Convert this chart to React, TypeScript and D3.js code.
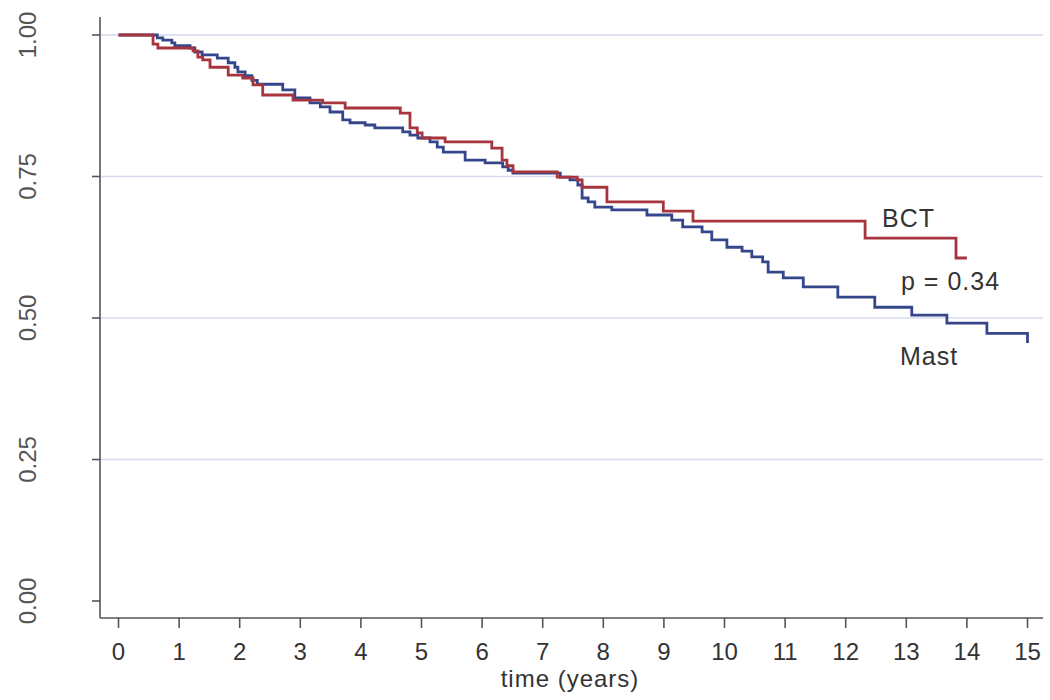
import React from "react";
import { scaleLinear, line, curveStepAfter } from "d3";

// Kaplan-Meier step points (time in years, survival after the step)
const bctTimes = [0, 0.57, 0.65, 1.23, 1.31, 1.39, 1.51, 1.81, 2.05, 2.22, 2.38, 2.88, 3.37, 3.74, 4.65, 4.81, 4.93, 5.01, 5.39, 6.16, 6.33, 6.41, 6.51, 7.24, 7.57, 7.65, 8.06, 8.99, 9.48, 12.32, 13.82, 14.0];
const bctSurv = [1, 0.984, 0.977, 0.972, 0.961, 0.956, 0.943, 0.929, 0.924, 0.912, 0.894, 0.885, 0.88, 0.871, 0.862, 0.836, 0.827, 0.818, 0.811, 0.8, 0.779, 0.769, 0.758, 0.749, 0.744, 0.731, 0.705, 0.689, 0.671, 0.641, 0.606, 0.606];

const mastTimes = [0, 0.64, 0.73, 0.88, 0.93, 1.18, 1.26, 1.38, 1.63, 1.81, 1.92, 1.97, 2.09, 2.2, 2.29, 2.71, 2.91, 3.16, 3.33, 3.49, 3.7, 3.82, 4.07, 4.23, 4.69, 4.81, 4.94, 5.14, 5.26, 5.36, 5.72, 6.05, 6.34, 6.43, 6.51, 7.29, 7.45, 7.58, 7.65, 7.75, 7.86, 8.14, 8.72, 9.13, 9.31, 9.63, 9.79, 10.04, 10.29, 10.45, 10.63, 10.72, 10.97, 11.3, 11.87, 12.48, 13.09, 13.67, 14.33, 15.0];
const mastSurv = [1, 0.995, 0.991, 0.986, 0.981, 0.977, 0.97, 0.965, 0.959, 0.951, 0.943, 0.935, 0.928, 0.92, 0.913, 0.903, 0.889, 0.88, 0.873, 0.864, 0.85, 0.845, 0.841, 0.836, 0.829, 0.823, 0.818, 0.811, 0.802, 0.793, 0.779, 0.774, 0.767, 0.761, 0.756, 0.749, 0.744, 0.735, 0.712, 0.705, 0.696, 0.691, 0.682, 0.673, 0.661, 0.652, 0.638, 0.625, 0.618, 0.608, 0.599, 0.581, 0.571, 0.555, 0.537, 0.519, 0.505, 0.491, 0.473, 0.456];

const xTicks = [0, 1, 2, 3, 4, 5, 6, 7, 8, 9, 10, 11, 12, 13, 14, 15];
const yTicks = [0, 0.25, 0.5, 0.75, 1];
const yTickLabels = ["0.00", "0.25", "0.50", "0.75", "1.00"];

const font = "Liberation Sans, Arial, sans-serif";

export default function App() {
  const x = scaleLinear().domain([0, 15]).range([118.5, 1027.5]);
  const y = scaleLinear().domain([0, 1]).range([601, 35]);

  const stepLine = line<[number, number]>()
    .x((d) => x(d[0]))
    .y((d) => y(d[1]))
    .curve(curveStepAfter);

  const bct = bctTimes.map((t, i) => [t, bctSurv[i]] as [number, number]);
  const mast = mastTimes.map((t, i) => [t, mastSurv[i]] as [number, number]);

  const left = 100;
  const right = 1043;
  const bottom = 618;

  return (
    <svg
      width={1050}
      height={700}
      style={{ position: "absolute", left: 0, top: 0, background: "#fff" }}
      fontFamily={font}
    >
      {/* grid */}
      {yTicks.filter((v) => v > 0).map((v) => (
        <line key={v} x1={left} x2={right} y1={y(v)} y2={y(v)} stroke="#d6daee" strokeWidth={1.5} />
      ))}

      {/* axes */}
      <line x1={left} x2={left} y1={17} y2={bottom} stroke="#555" strokeWidth={1.6} />
      <line x1={left} x2={right} y1={bottom} y2={bottom} stroke="#555" strokeWidth={1.6} />

      {yTicks.map((v, i) => (
        <g key={v}>
          <line x1={92} x2={left} y1={y(v)} y2={y(v)} stroke="#555" strokeWidth={1.6} />
          <text
            transform={`translate(36,${y(v)}) rotate(-90)`}
            textAnchor="middle"
            fontSize={24}
            fill="#555"
          >
            {yTickLabels[i]}
          </text>
        </g>
      ))}

      {xTicks.map((v) => (
        <g key={v}>
          <line x1={x(v)} x2={x(v)} y1={bottom} y2={628} stroke="#555" strokeWidth={1.6} />
          <text x={x(v)} y={660} textAnchor="middle" fontSize={24} fill="#333">
            {v}
          </text>
        </g>
      ))}

      <text x={570} y={687} textAnchor="middle" fontSize={24} letterSpacing={1} fill="#333">
        time (years)
      </text>

      {/* curves */}
      <path d={stepLine(mast) ?? ""} fill="none" stroke="#35478a" strokeWidth={2.8} />
      <path d={stepLine(bct) ?? ""} fill="none" stroke="#a6353e" strokeWidth={2.8} />

      {/* annotations */}
      <text x={882} y={227} fontSize={25} letterSpacing={1} fill="#333">BCT</text>
      <text x={901} y={290} fontSize={25} letterSpacing={1} fill="#333">p = 0.34</text>
      <text x={900} y={365} fontSize={25} letterSpacing={1} fill="#333">Mast</text>
    </svg>
  );
}
